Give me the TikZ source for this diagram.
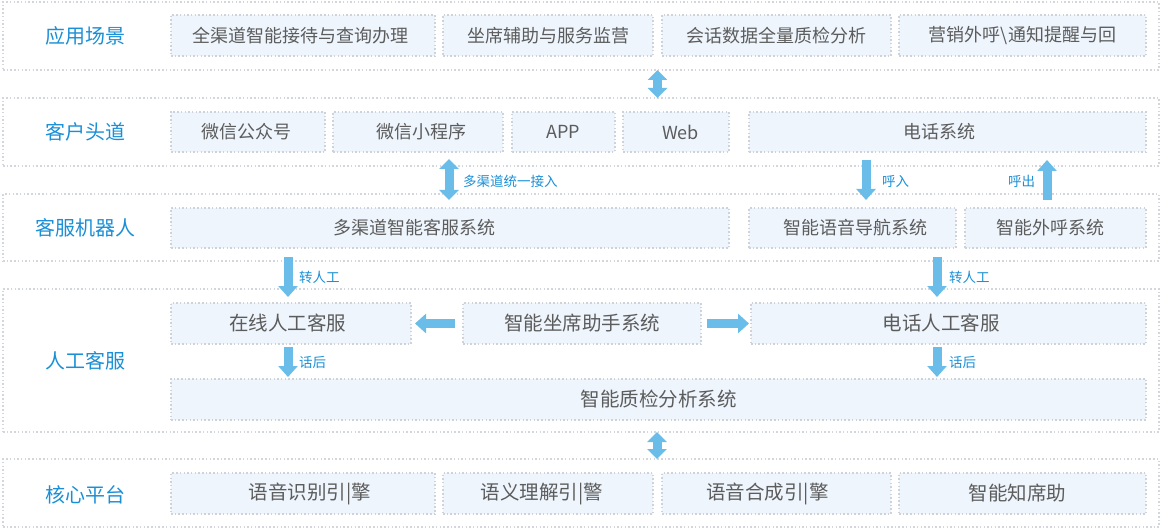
\documentclass[tikz,border=0pt]{standalone}
\usepackage{fontspec}
\newfontfamily\cjk{Noto Sans CJK SC}
\usetikzlibrary{arrows.meta,calc}
\definecolor{boxfill}{HTML}{EEF5FD}
\definecolor{boxline}{HTML}{CDD2DB}
\definecolor{layline}{HTML}{D3D6DC}
\definecolor{txtgray}{HTML}{5C5C5C}
\definecolor{lblue}{HTML}{1A8FD6}
\definecolor{arrblue}{HTML}{6ABDE8}
\begin{document}
\begin{tikzpicture}[x=1pt,y=-1pt,
  layer/.style={draw=layline, line width=1.3pt, dash pattern=on 1.5pt off 2.2pt, inner sep=0pt, outer sep=0pt, minimum width=1156pt},
  box/.style={draw=boxline, fill=boxfill, line width=1.3pt, dash pattern=on 1.5pt off 2.2pt, inner sep=0pt, outer sep=0pt, text=txtgray, font=\cjk\fontsize{18}{20}\selectfont},
  big/.style={font=\cjk\fontsize{19.5}{21}\selectfont},
  bt/.style={text=txtgray, inner sep=0pt, font=\cjk\fontsize{18}{20}\selectfont},
  head/.style={text=lblue, font=\cjk\fontsize{20}{22}\selectfont, inner sep=0pt},
  tag/.style={text=lblue, font=\cjk\fontsize{13.5}{15}\selectfont, anchor=west, inner sep=0pt},
  blk/.style={line width=9pt, color=arrblue, -{Triangle[length=11pt,width=19pt]}},
  dblk/.style={line width=9pt, color=arrblue, {Triangle[length=10pt,width=19pt]}-{Triangle[length=10pt,width=19pt]}},
]
\useasboundingbox (0,0) rectangle (1161,529);

% layers
\node[layer, minimum height=68pt] (L1) at (581,36) {};
\node[layer, minimum height=68pt] (L2) at (581,132) {};
\node[layer, minimum height=67pt] (L3) at (581,227.5) {};
\node[layer, minimum height=143pt] (L4) at (581,360.5) {};
\node[layer, minimum height=68pt] (L5) at (581,493) {};

% layer titles
\node[head] (h1) at (85,36) {应用场景};
\node[head] (h2) at (85,132) {客户头道};
\node[head] (h3) at (85,228) {客服机器人};
\node[head] (h4) at (85,361) {人工客服};
\node[head] (h5) at (85,495) {核心平台};

% row 1
\node[box, minimum width=264pt, minimum height=41pt] (a1) at (303,35.5) {};
\node[bt] (a1t) at ($(a1)+(-2.5,0)$) {全渠道智能接待与查询办理};
\node[box, minimum width=210pt, minimum height=41pt] (a2) at (548,35.5) {坐席辅助与服务监营};
\node[box, minimum width=229pt, minimum height=41pt] (a3) at (776.5,35.5) {会话数据全量质检分析};
\node[box, minimum width=247pt, minimum height=41pt] (a4) at (1022.5,35.5) {营销外呼\textbackslash 通知提醒与回};

% row 2
\node[box, minimum width=154pt, minimum height=40pt] (wx1) at (248,132) {};
\node[bt] (wx1t) at ($(wx1)+(-2,0)$) {微信公众号};
\node[box, minimum width=170pt, minimum height=40pt] (wx2) at (418,132) {};
\node[bt] (wx2t) at ($(wx2)+(3.5,0)$) {微信小程序};
\node[box, minimum width=103pt, minimum height=40pt] (app) at (563.5,132) {APP};
\node[box, minimum width=106pt, minimum height=40pt] (web) at (676,132) {};
\node[bt] (webt) at ($(web)+(4.5,0)$) {Web};
\node[box, minimum width=397pt, minimum height=40pt] (dh) at (947.5,132) {};
\node[bt] (dht) at ($(dh)+(-8.5,0)$) {电话系统};

% row 3
\node[box, minimum width=558pt, minimum height=40pt] (dq) at (450,228) {};
\node[bt] (dqt) at ($(dq)+(-36,0)$) {多渠道智能客服系统};
\node[box, minimum width=207pt, minimum height=40pt] (yy) at (852.5,228) {};
\node[bt] (yyt) at ($(yy)+(2.5,0)$) {智能语音导航系统};
\node[box, minimum width=181pt, minimum height=40pt] (wh) at (1055.5,228) {};
\node[bt] (wht) at ($(wh)+(-5.5,0)$) {智能外呼系统};

% row 4
\node[box, minimum width=240pt, minimum height=41pt] (zx) at (291,323.5) {};
\node[bt, big] (zxt) at ($(zx)+(-3.5,0)$) {在线人工客服};
\node[box, big, minimum width=238pt, minimum height=41pt] (zs) at (582,323.5) {智能坐席助手系统};
\node[box, minimum width=395pt, minimum height=41pt] (dr) at (948.5,323.5) {};
\node[bt, big] (drt) at ($(dr)+(-7.5,0)$) {电话人工客服};
\node[box, big, minimum width=975pt, minimum height=41pt] (zj) at (658.5,399.5) {智能质检分析系统};

% row 5
\node[box, minimum width=264pt, minimum height=41pt] (c1) at (303,493.5) {};
\node[bt, big] (c1t) at ($(c1)+(7,0)$) {语音识别引|擎};
\node[box, minimum width=210pt, minimum height=41pt] (c2) at (548,493.5) {};
\node[bt, big] (c2t) at ($(c2)+(-6,0)$) {语义理解引|警};
\node[box, minimum width=229pt, minimum height=41pt] (c3) at (776.5,493.5) {};
\node[bt, big] (c3t) at ($(c3)+(-9,0)$) {语音合成引|擎};
\node[box, minimum width=247pt, minimum height=41pt] (c4) at (1022.5,493.5) {};
\node[bt, big] (c4t) at ($(c4)+(-5,0)$) {智能知席助};

% arrow x positions
\coordinate (g1) at (657.5,0);
\coordinate (mq) at (449,0);
\coordinate (hr) at (866,0);
\coordinate (hc) at (1047,0);
\coordinate (z1) at (288,0);
\coordinate (z2) at (937,0);
\coordinate (g2) at (657,0);

% arrows
\draw[dblk] (L1.south -| g1) -- (L2.north -| g1);
\draw[dblk, shorten <=7pt, shorten >=8pt] (wx2.south -| mq) -- (dq.north -| mq);
\draw[blk, shorten <=8pt, shorten >=8pt] (dh.south -| hr) -- (yy.north -| hr);
\draw[blk, shorten <=8pt, shorten >=8pt] (wh.north -| hc) -- (dh.south -| hc);
\draw[blk, shorten <=9pt, shorten >=6pt] (dq.south -| z1) -- (zx.north -| z1);
\draw[blk, shorten <=9pt, shorten >=6pt] (yy.south -| z2) -- (dr.north -| z2);
\draw[blk, shorten <=3pt, shorten >=2pt] (zx.south -| z1) -- (zj.north -| z1);
\draw[blk, shorten <=3pt, shorten >=2pt] (dr.south -| z2) -- (zj.north -| z2);
\draw[blk, shorten <=8pt, shorten >=4pt] (zs.west) -- (zx.east);
\draw[blk, shorten <=6pt, shorten >=2pt] (zs.east) -- (dr.west);
\draw[dblk] (L4.south -| g2) -- (L5.north -| g2);

% arrow labels
\node[tag] (t1) at (463,181) {多渠道统一接入};
\node[tag] (t2) at (882,181) {呼入};
\node[tag] (t3) at (1008,181) {呼出};
\node[tag] (t4) at (299,277) {转人工};
\node[tag] (t5) at (949,277) {转人工};
\node[tag] (t6) at (299,362) {话后};
\node[tag] (t7) at (949,362) {话后};
\end{tikzpicture}
\end{document}
